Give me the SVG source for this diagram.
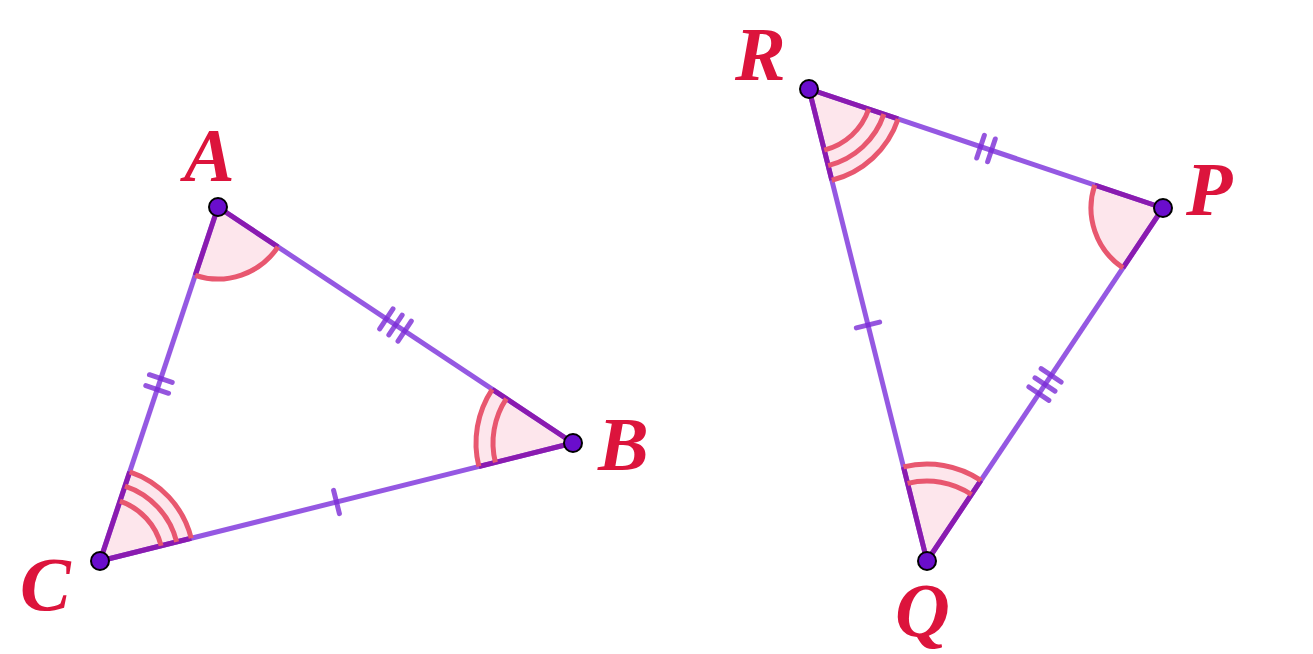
<svg xmlns="http://www.w3.org/2000/svg" width="1313" height="654" viewBox="0 0 1313 654">
<style>
.sector{fill:#fde6ec;stroke:none}
.edge{stroke:#8f4fe0;stroke-width:5;fill:none;stroke-opacity:0.95}
.rad{stroke:#8a1bb0;stroke-width:5;fill:none}
.arc{stroke:#e8576f;stroke-width:5;fill:none}
.tick{stroke:#7a2bd6;stroke-opacity:0.8;stroke-width:5;stroke-linecap:round;fill:none}
.pt{fill:#6a0dcc;stroke:#000;stroke-width:2}
.lbl{font-family:"Liberation Serif","Times New Roman",serif;font-weight:bold;font-style:italic;font-size:76px;fill:#dc143c}
</style>
<rect width="1313" height="654" fill="#fff"/>
<g id="angles">
<path class="sector" d="M218 207 L277.96 246.86 A72 72 0 0 1 195.23 275.31 Z"/>
<path class="sector" d="M573 443 L478.88 466.48 A97 97 0 0 1 492.22 389.30 Z"/>
<path class="sector" d="M100 561 L129.73 471.81 A94 94 0 0 1 191.21 538.24 Z"/>
<path class="sector" d="M809 89 L898.09 118.95 A94 94 0 0 1 831.80 180.20 Z"/>
<path class="sector" d="M1163 208 L1122.98 267.86 A72 72 0 0 1 1094.76 185.06 Z"/>
<path class="sector" d="M927 561 L903.48 466.89 A97 97 0 0 1 980.91 480.35 Z"/>
</g>
<g id="connectors">
<line class="edge" x1="218" y1="207" x2="573" y2="443"/>
<line class="edge" x1="573" y1="443" x2="100" y2="561"/>
<line class="edge" x1="100" y1="561" x2="218" y2="207"/>
<line class="edge" x1="809" y1="89" x2="1163" y2="208"/>
<line class="edge" x1="1163" y1="208" x2="927" y2="561"/>
<line class="edge" x1="927" y1="561" x2="809" y2="89"/>
<line class="rad" x1="218" y1="207" x2="277.96" y2="246.86"/>
<line class="rad" x1="218" y1="207" x2="195.23" y2="275.31"/>
<line class="rad" x1="573" y1="443" x2="478.88" y2="466.48"/>
<line class="rad" x1="573" y1="443" x2="492.22" y2="389.30"/>
<line class="rad" x1="100" y1="561" x2="129.73" y2="471.81"/>
<line class="rad" x1="100" y1="561" x2="191.21" y2="538.24"/>
<line class="rad" x1="809" y1="89" x2="898.09" y2="118.95"/>
<line class="rad" x1="809" y1="89" x2="831.80" y2="180.20"/>
<line class="rad" x1="1163" y1="208" x2="1122.98" y2="267.86"/>
<line class="rad" x1="1163" y1="208" x2="1094.76" y2="185.06"/>
<line class="rad" x1="927" y1="561" x2="903.48" y2="466.89"/>
<line class="rad" x1="927" y1="561" x2="980.91" y2="480.35"/>
</g>
<g id="arcs">
<path class="arc" d="M277.96 246.86 A72 72 0 0 1 195.23 275.31"/>
<path class="arc" d="M478.88 466.48 A97 97 0 0 1 492.22 389.30"/>
<path class="arc" d="M495.38 462.37 A80 80 0 0 1 506.38 398.71"/>
<path class="arc" d="M129.73 471.81 A94 94 0 0 1 191.21 538.24"/>
<path class="arc" d="M124.99 486.04 A79 79 0 0 1 176.65 541.87"/>
<path class="arc" d="M119.93 501.23 A63 63 0 0 1 161.13 545.75"/>
<path class="arc" d="M898.09 118.95 A94 94 0 0 1 831.80 180.20"/>
<path class="arc" d="M883.88 114.17 A79 79 0 0 1 828.16 165.65"/>
<path class="arc" d="M868.71 109.07 A63 63 0 0 1 824.28 150.12"/>
<path class="arc" d="M1122.98 267.86 A72 72 0 0 1 1094.76 185.06"/>
<path class="arc" d="M903.48 466.89 A97 97 0 0 1 980.91 480.35"/>
<path class="arc" d="M907.60 483.38 A80 80 0 0 1 971.46 494.49"/>
</g>
<g id="ticks">
<line class="tick" x1="333.59" y1="490.36" x2="339.41" y2="513.64"/>
<line class="tick" x1="856.36" y1="327.91" x2="879.64" y2="322.09"/>
<line class="tick" x1="149.43" y1="374.74" x2="172.21" y2="382.34"/>
<line class="tick" x1="145.79" y1="385.66" x2="168.57" y2="393.26"/>
<line class="tick" x1="984.37" y1="135.30" x2="976.73" y2="158.04"/>
<line class="tick" x1="995.27" y1="138.96" x2="987.63" y2="161.70"/>
<line class="tick" x1="392.98" y1="308.92" x2="379.70" y2="328.90"/>
<line class="tick" x1="402.14" y1="315.01" x2="388.86" y2="334.99"/>
<line class="tick" x1="411.30" y1="321.10" x2="398.02" y2="341.08"/>
<line class="tick" x1="1041.13" y1="368.68" x2="1061.09" y2="382.02"/>
<line class="tick" x1="1035.02" y1="377.83" x2="1054.98" y2="391.17"/>
<line class="tick" x1="1028.91" y1="386.98" x2="1048.87" y2="400.32"/>
</g>
<g id="node-A"><circle class="pt" cx="218" cy="207" r="9"/><text class="lbl" x="184" y="181">A</text></g>
<g id="node-B"><circle class="pt" cx="573" cy="443" r="9"/><text class="lbl" x="598" y="470">B</text></g>
<g id="node-C"><circle class="pt" cx="100" cy="561" r="9"/><text class="lbl" x="20" y="610">C</text></g>
<g id="node-R"><circle class="pt" cx="809" cy="89" r="9"/><text class="lbl" x="735" y="80">R</text></g>
<g id="node-P"><circle class="pt" cx="1163" cy="208" r="9"/><text class="lbl" x="1186" y="215">P</text></g>
<g id="node-Q"><circle class="pt" cx="927" cy="561" r="9"/><text class="lbl" x="895" y="636">Q</text></g>
</svg>
